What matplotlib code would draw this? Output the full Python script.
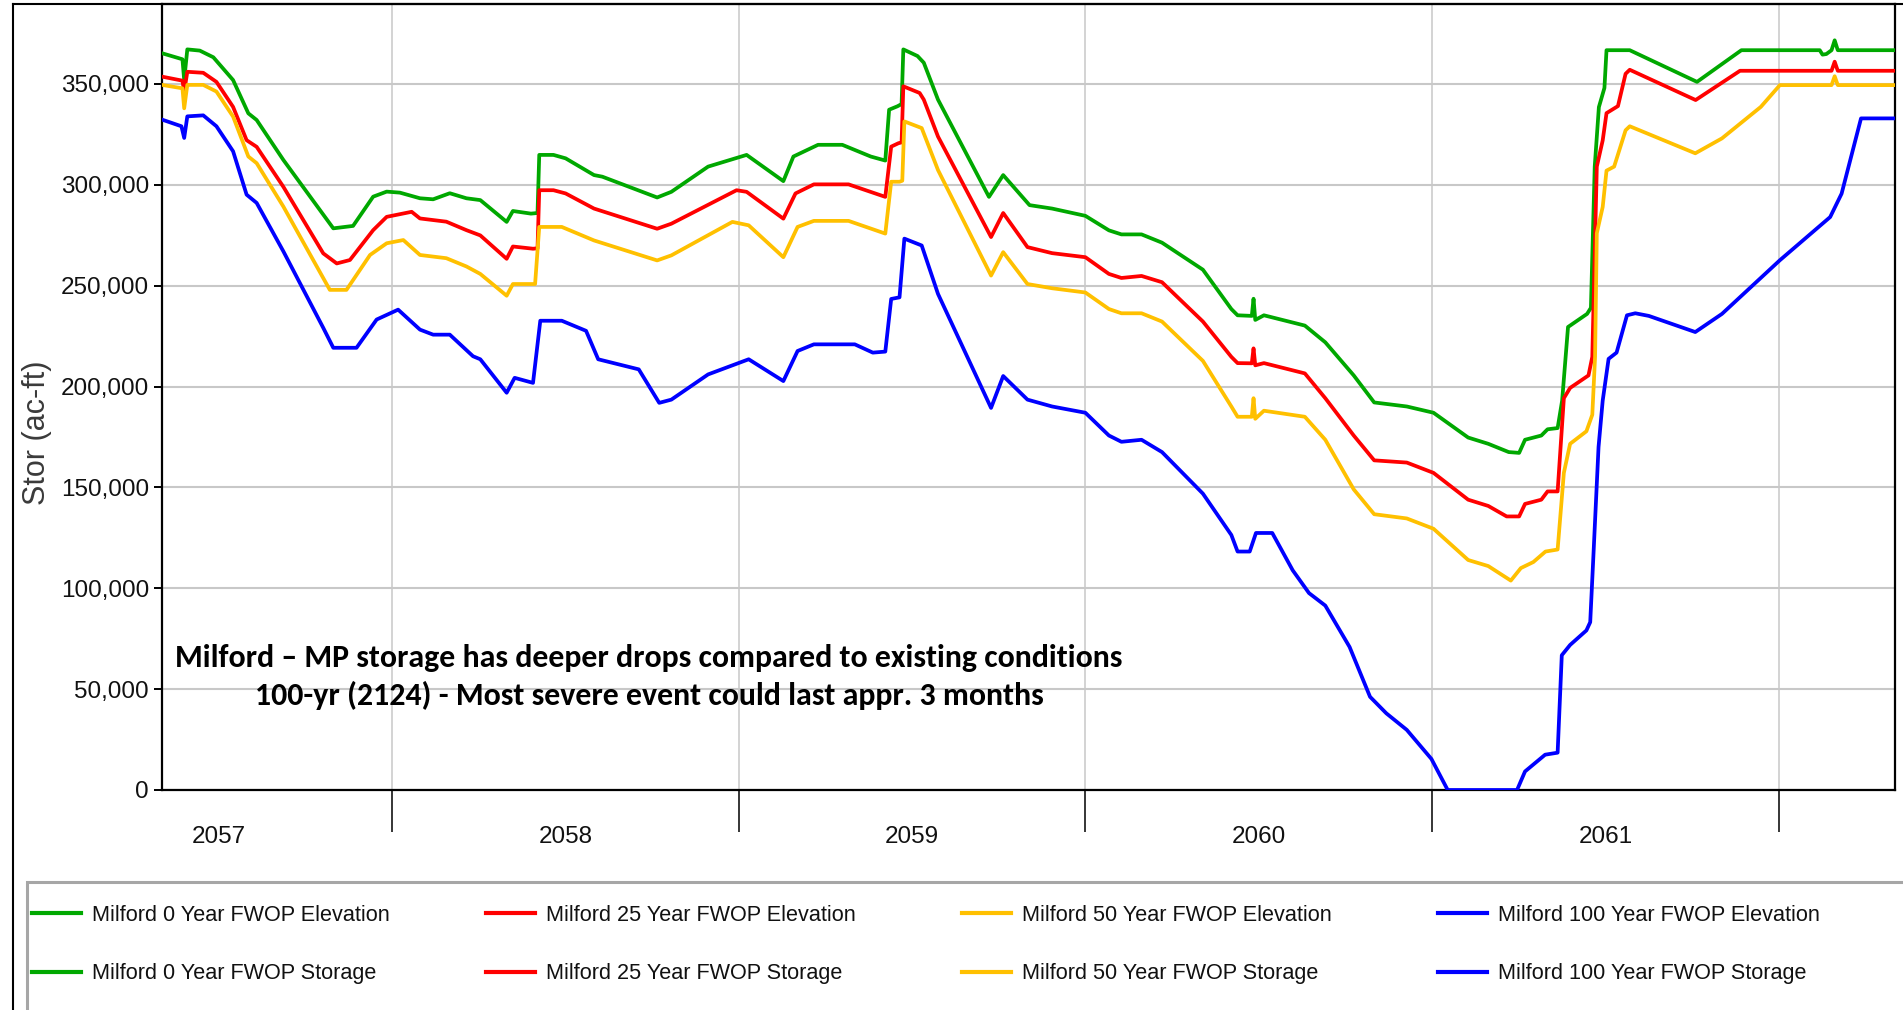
import numpy as np
import matplotlib
matplotlib.use("Agg")
import matplotlib.pyplot as plt
from matplotlib import font_manager as fm
from matplotlib.lines import Line2D
from matplotlib.patches import Rectangle

# ---------------- data (x = fractional year, y = storage in 1000 ac-ft) -------------
g_x = [2057.337, 2057.396, 2057.401, 2057.410, 2057.446, 2057.485, 2057.542, 2057.586, 2057.610, 2057.687,
       2057.831, 2057.888, 2057.946, 2057.985, 2058.023, 2058.081, 2058.119, 2058.167, 2058.215, 2058.255,
       2058.331, 2058.349, 2058.401, 2058.420, 2058.425, 2058.466, 2058.501, 2058.583, 2058.607, 2058.765,
       2058.806, 2058.912, 2059.023, 2059.129, 2059.158, 2059.229, 2059.299, 2059.381, 2059.423, 2059.434,
       2059.458, 2059.470, 2059.475, 2059.516, 2059.534, 2059.575, 2059.722, 2059.763, 2059.839, 2059.904,
       2060.000, 2060.068, 2060.104, 2060.162, 2060.221, 2060.339, 2060.421, 2060.439, 2060.480, 2060.485,
       2060.490, 2060.515, 2060.633, 2060.692, 2060.774, 2060.833, 2060.927, 2061.004, 2061.104, 2061.162,
       2061.221, 2061.251, 2061.268, 2061.315, 2061.333, 2061.362, 2061.375, 2061.392, 2061.447, 2061.458,
       2061.469, 2061.481, 2061.497, 2061.503, 2061.570, 2061.764, 2061.892, 2062.118, 2062.126, 2062.137,
       2062.152, 2062.161, 2062.170, 2062.335]
g_y = [365.2, 362.2, 351.9, 367.1, 366.5, 363.2, 351.9, 335.4, 332.1, 312.3,
       278.4, 279.6, 294.1, 296.6, 296.1, 293.3, 292.8, 295.8, 293.3, 292.4,
       281.6, 287.0, 285.7, 286.0, 314.8, 314.8, 313.1, 304.8, 304.0, 293.7,
       296.5, 309.0, 314.8, 301.8, 314.0, 319.8, 319.8, 314.0, 312.0, 337.2,
       338.9, 340.0, 367.1, 363.8, 360.5, 342.2, 294.0, 304.8, 289.9, 288.2,
       284.6, 277.4, 275.4, 275.4, 271.3, 257.9, 238.4, 235.3, 235.0, 243.5,
       233.0, 235.3, 230.2, 221.9, 205.5, 192.1, 190.1, 187.0, 174.7, 171.6,
       167.5, 167.1, 173.6, 175.7, 178.8, 179.4, 193.0, 229.5, 236.0, 239.0,
       309.0, 338.5, 348.0, 366.7, 366.7, 351.0, 366.7, 366.7, 364.5, 364.8,
       366.7, 371.6, 366.7, 366.7]

r_x = [2057.337, 2057.396, 2057.401, 2057.410, 2057.456, 2057.494, 2057.542, 2057.581, 2057.610, 2057.687,
       2057.802, 2057.841, 2057.879, 2057.946, 2057.985, 2058.057, 2058.081, 2058.157, 2058.215, 2058.255,
       2058.331, 2058.349, 2058.407, 2058.420, 2058.425, 2058.466, 2058.501, 2058.583, 2058.765, 2058.806,
       2058.994, 2059.023, 2059.129, 2059.164, 2059.217, 2059.317, 2059.423, 2059.440, 2059.461, 2059.470,
       2059.475, 2059.522, 2059.534, 2059.575, 2059.728, 2059.763, 2059.833, 2059.904, 2060.000, 2060.068,
       2060.104, 2060.162, 2060.221, 2060.339, 2060.421, 2060.439, 2060.480, 2060.485, 2060.490, 2060.515,
       2060.633, 2060.692, 2060.774, 2060.833, 2060.927, 2061.004, 2061.104, 2061.162, 2061.215, 2061.251,
       2061.268, 2061.315, 2061.333, 2061.362, 2061.380, 2061.398, 2061.451, 2061.462, 2061.475, 2061.492,
       2061.503, 2061.536, 2061.558, 2061.570, 2061.760, 2061.888, 2062.152, 2062.161, 2062.170, 2062.335]
r_y = [353.6, 351.6, 346.1, 356.0, 355.5, 351.0, 338.6, 322.1, 318.8, 299.0,
       266.0, 261.0, 262.7, 277.5, 284.1, 286.6, 283.3, 281.7, 277.5, 274.9,
       263.3, 269.4, 268.3, 268.5, 297.3, 297.3, 295.7, 288.2, 278.2, 280.7,
       297.3, 296.5, 283.2, 295.7, 300.2, 300.2, 294.0, 318.9, 320.6, 321.0,
       348.8, 345.5, 342.2, 323.9, 274.1, 286.0, 269.1, 266.1, 264.1, 255.8,
       253.8, 254.8, 251.7, 232.2, 214.7, 211.6, 211.5, 218.9, 210.5, 211.6,
       206.5, 194.2, 175.7, 163.4, 162.3, 157.2, 143.9, 140.8, 135.6, 135.6,
       141.8, 143.9, 148.0, 148.0, 194.2, 199.3, 205.5, 214.7, 309.0, 322.0,
       335.5, 339.0, 355.0, 357.0, 342.0, 356.5, 356.5, 361.0, 356.5, 356.5]

y_x = [2057.337, 2057.396, 2057.401, 2057.410, 2057.456, 2057.494, 2057.542, 2057.586, 2057.610, 2057.687,
       2057.821, 2057.869, 2057.937, 2057.985, 2058.033, 2058.081, 2058.157, 2058.215, 2058.255, 2058.331,
       2058.349, 2058.413, 2058.425, 2058.490, 2058.583, 2058.765, 2058.806, 2058.982, 2059.029, 2059.129,
       2059.170, 2059.217, 2059.317, 2059.423, 2059.440, 2059.464, 2059.472, 2059.478, 2059.528, 2059.575,
       2059.728, 2059.763, 2059.833, 2059.904, 2060.000, 2060.068, 2060.104, 2060.162, 2060.221, 2060.339,
       2060.421, 2060.439, 2060.480, 2060.485, 2060.490, 2060.515, 2060.633, 2060.692, 2060.774, 2060.833,
       2060.927, 2061.004, 2061.104, 2061.162, 2061.227, 2061.256, 2061.292, 2061.327, 2061.362, 2061.380,
       2061.398, 2061.445, 2061.462, 2061.470, 2061.475, 2061.492, 2061.503, 2061.525, 2061.558, 2061.570,
       2061.759, 2061.836, 2061.948, 2062.003, 2062.152, 2062.161, 2062.170, 2062.335]
y_y = [349.5, 347.8, 337.9, 349.5, 349.5, 346.2, 333.8, 314.0, 310.7, 289.2,
       247.9, 247.9, 265.2, 271.0, 272.6, 265.2, 263.6, 259.5, 255.8, 245.0,
       250.8, 250.8, 279.1, 279.1, 272.4, 262.5, 265.0, 281.6, 279.9, 264.1,
       279.1, 282.1, 282.1, 275.8, 301.5, 301.5, 302.0, 331.4, 328.1, 307.3,
       255.0, 266.6, 250.8, 248.7, 246.6, 238.4, 236.3, 236.3, 232.2, 212.7,
       190.1, 185.0, 185.0, 194.2, 184.0, 188.0, 185.0, 173.6, 149.0, 136.7,
       134.6, 129.5, 114.0, 111.0, 103.8, 110.0, 113.0, 118.2, 119.2, 157.2,
       171.6, 177.8, 186.0, 214.7, 276.0, 289.0, 307.0, 309.0, 327.0, 329.0,
       315.6, 323.0, 338.6, 349.4, 349.4, 353.8, 349.4, 349.4]

b_x = [2057.337, 2057.393, 2057.401, 2057.410, 2057.456, 2057.494, 2057.542, 2057.581, 2057.610, 2057.687,
       2057.802, 2057.831, 2057.898, 2057.956, 2058.018, 2058.081, 2058.119, 2058.167, 2058.234, 2058.255,
       2058.331, 2058.354, 2058.407, 2058.428, 2058.490, 2058.560, 2058.595, 2058.712, 2058.771, 2058.806,
       2058.912, 2059.029, 2059.129, 2059.170, 2059.217, 2059.335, 2059.387, 2059.423, 2059.440, 2059.464,
       2059.478, 2059.528, 2059.575, 2059.728, 2059.763, 2059.833, 2059.904, 2060.000, 2060.068, 2060.104,
       2060.162, 2060.221, 2060.339, 2060.421, 2060.439, 2060.474, 2060.492, 2060.539, 2060.598, 2060.645,
       2060.692, 2060.762, 2060.821, 2060.868, 2060.927, 2060.998, 2061.045, 2061.245, 2061.268, 2061.326,
       2061.362, 2061.374, 2061.398, 2061.445, 2061.456, 2061.466, 2061.480, 2061.492, 2061.509, 2061.532,
       2061.562, 2061.586, 2061.625, 2061.759, 2061.836, 2062.003, 2062.148, 2062.181, 2062.237, 2062.335]
b_y = [332.3, 329.0, 323.2, 333.9, 334.4, 329.0, 316.6, 295.1, 291.0, 267.0,
       229.1, 219.2, 219.2, 233.2, 238.1, 228.2, 225.7, 225.7, 215.0, 213.5,
       196.9, 204.3, 201.8, 232.6, 232.6, 227.6, 213.5, 208.5, 191.9, 193.5,
       206.0, 213.5, 202.7, 217.6, 220.9, 220.9, 216.8, 217.3, 243.4, 244.2,
       273.3, 269.9, 245.9, 189.4, 205.2, 193.5, 190.1, 187.0, 175.7, 172.6,
       173.6, 167.5, 146.9, 126.4, 118.2, 118.2, 127.4, 127.4, 108.9, 97.6,
       91.4, 70.9, 46.2, 38.0, 29.8, 15.4, 0.0, 0.0, 9.2, 17.5,
       18.5, 66.8, 71.9, 79.1, 83.2, 119.0, 170.0, 193.0, 213.7, 216.8,
       235.3, 236.3, 235.0, 227.0, 236.0, 262.6, 284.0, 295.6, 332.9, 332.9]

scenarios = ["0", "25", "50", "100"]
colors = ["#00a800", "#ff0000", "#ffc000", "#0000ff"]
year_labels = ["2057", "2058", "2059", "2060", "2061"]
year_mid = [2057.5, 2058.5, 2059.5, 2060.5, 2061.5]
year_bounds = [2058, 2059, 2060, 2061, 2062]
y_ticks = [0, 50000, 100000, 150000, 200000, 250000, 300000, 350000]
ann_line1 = "Milford \u2013 MP storage has deeper drops compared to existing conditions"
ann_line2 = "100-yr (2124) - Most severe event could last appr. 3 months"

# ---------------- fonts ----------------
_names = {f.name for f in fm.fontManager.ttflist}
def pick(*cands):
    for c in cands:
        if c in _names:
            return c
    return None

NARROW = pick("Liberation Sans Narrow", "Arial Narrow")
k = 1.0
if NARROW is None:
    NARROW = pick("Liberation Sans", "Arial") or "DejaVu Sans"
    k = 0.82
REG = pick("Liberation Sans", "Arial") or "DejaVu Sans"
BOLD = pick("Carlito", "Calibri", "Lato", "Open Sans") or "DejaVu Sans"
plt.rcParams["font.family"] = [REG, "DejaVu Sans"]

# ---------------- figure ----------------
W, H = 1903, 1010
fig = plt.figure(figsize=(W / 100, H / 100), dpi=100, facecolor="white")
def fx(p):
    return p / W
def fy(p):
    return 1 - p / H

ax = fig.add_axes([fx(162), fy(790), (1895 - 162) / W, (790 - 4) / H])
ax.set_xlim(2057.337, 2062.335)
ax.set_ylim(0, 389600)
ax.set_axisbelow(True)

series = [(g_x, g_y), (r_x, r_y), (y_x, y_y), (b_x, b_y)]
zord = [3, 4, 5, 6]
for (xs, ys), c, z, n in zip(series, colors, zord, scenarios):
    ax.plot(xs, np.asarray(ys) * 1000.0, color=c, lw=2.7, solid_joinstyle="round",
            zorder=z, label=f"Milford {n} Year FWOP Storage")

for s in ax.spines.values():
    s.set_color("black")
    s.set_linewidth(1.6)

tick_fs = 21.3 * k
ax.set_yticks(y_ticks)
ax.set_yticklabels([f"{v:,}" for v in y_ticks])
ax.set_xticks(year_bounds)
ax.set_xticklabels([""] * len(year_bounds))
ax.set_xticks(year_mid, labels=year_labels, minor=True)
ax.grid(axis="y", color="#c8c8c8", lw=1.5)
ax.grid(axis="x", which="major", color="#c8c8c8", lw=1.1)
ax.tick_params(axis="x", which="major", length=30, width=1.1, direction="out", color="black")
ax.tick_params(axis="x", which="minor", length=0, pad=26, labelsize=tick_fs, labelcolor="#111111")
ax.tick_params(axis="y", length=5.8, width=1.4, pad=3.6, labelsize=tick_fs, labelcolor="#111111")
for lab in ax.get_xticklabels(minor=True) + ax.get_yticklabels():
    lab.set_fontfamily(NARROW)

ax.set_ylabel("Stor (ac-ft)", fontsize=22, color="#3a3a3a", family=REG, va="center")
ax.yaxis.set_label_coords((37 - 162) / 1733, (790 - 433) / 786)

# outer frame lines
fig.add_artist(Line2D([fx(13), fx(13)], [fy(4), 0], transform=fig.transFigure, color="black", lw=1.5))
fig.add_artist(Line2D([fx(13), 1], [fy(4), fy(4)], transform=fig.transFigure, color="black", lw=1.5))

# legend panel
fig.add_artist(Rectangle((fx(27), fy(1040)), 1.1 - fx(27), fy(882) - fy(1040),
                         transform=fig.transFigure, facecolor="none", edgecolor="#a6a6a6", lw=2.2))
leg_fs = 19 * k
fs_px = leg_fs * 100 / 72
col_x = [32, 486, 962, 1438]
for cx, c, n in zip(col_x, colors, scenarios):
    handles = [Line2D([], [], color=c, lw=3.0), Line2D([], [], color=c, lw=3.0)]
    labels = [f"Milford {n} Year FWOP Elevation", f"Milford {n} Year FWOP Storage"]
    fig.legend(handles, labels, loc="upper left", bbox_to_anchor=(fx(cx), fy(905)),
               bbox_transform=fig.transFigure, frameon=False, borderpad=0, borderaxespad=0,
               handlelength=49 / fs_px, handletextpad=11 / fs_px, labelspacing=1.72,
               prop={"family": NARROW, "size": leg_fs}, labelcolor="#111111")

# annotation
t1 = fig.text(fx(649), fy(667), ann_line1, ha="center", va="baseline", fontsize=22,
              fontweight="bold", family=BOLD, color="black")
t2 = fig.text(fx(649), fy(705), ann_line2, ha="center", va="baseline", fontsize=22,
              fontweight="bold", family=BOLD, color="black")
renderer = fig.canvas.get_renderer()
w1 = t1.get_window_extent(renderer).width
scale = 947.0 / w1
t1.set_fontsize(22 * scale)
t2.set_fontsize(22 * scale)

fig.savefig("out.png", dpi=100, facecolor="white")
